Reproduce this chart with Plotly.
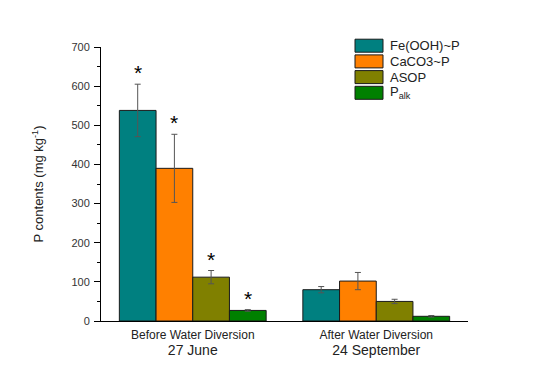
import plotly.graph_objects as go

categories = ["Before Water Diversion<br><span style='font-size:14px'>27 June</span>",
              "After Water Diversion<br><span style='font-size:14px'>24 September</span>"]
series_names = ["Fe(OOH)~P", "CaCO3~P", "ASOP", "P<sub>alk</sub>"]
fe_vals = [538, 80]
fe_err = [67, 8]
ca_vals = [390, 102]
ca_err = [87, 22]
asop_vals = [112, 50]
asop_err = [17, 5.5]
palk_vals = [27, 12]
palk_err = [2, 2]
significant = [[True, False], [True, False], [True, False], [True, False]]

colors = ["#008080", "#FF8000", "#808000", "#008000"]
values = [fe_vals, ca_vals, asop_vals, palk_vals]
errors = [fe_err, ca_err, asop_err, palk_err]

FONT = "Liberation Sans, Arial, sans-serif"
W, H = 550, 390
ML, MR, MT, MB = 93, 90, 39, 77
bargap = 0.2

fig = go.Figure()
for name, v, e, c in zip(series_names, values, errors, colors):
    fig.add_trace(go.Bar(
        x=categories, y=v, name=name, showlegend=False,
        marker=dict(color=c, line=dict(color="#1a1a1a", width=1)),
        error_y=dict(type="data", array=e, visible=True, color="#555555", thickness=1, width=3),
    ))

n = len(series_names)
bw = (1 - bargap) / n
annotations = []
shapes = []
for j in range(n):
    for i in range(len(categories)):
        if significant[j][i]:
            annotations.append(dict(
                x=i + (j - (n - 1) / 2) * bw, y=values[j][i] + errors[j][i],
                xref="x", yref="y", text="*", showarrow=False,
                yanchor="bottom", yshift=-2,
                font=dict(family=FONT, size=21, color="black"),
            ))

# custom legend (wide swatches like the original)
pw = W - ML - MR
ph = H - MT - MB
leg_left_px = 355 - 8 - ML
leg_top_px = 45.7 - 8 - MT
row_h = 15.7
sw_w, sw_h = 28, 13
for j, (name, c) in enumerate(zip(series_names, colors)):
    cy = leg_top_px + j * row_h
    shapes.append(dict(
        type="rect", xref="paper", yref="paper",
        x0=leg_left_px / pw, x1=(leg_left_px + sw_w) / pw,
        y0=1 - (cy + sw_h / 2) / ph, y1=1 - (cy - sw_h / 2) / ph,
        fillcolor=c, line=dict(color="#1a1a1a", width=1),
    ))
    annotations.append(dict(
        x=(leg_left_px + sw_w + 5) / pw, y=1 - cy / ph, xref="paper", yref="paper",
        text=name, showarrow=False, xanchor="left", yanchor="middle",
        font=dict(family=FONT, size=13, color="#222222"),
    ))

fig.update_layout(
    width=W, height=H,
    margin=dict(l=ML, r=MR, t=MT, b=MB),
    paper_bgcolor="white", plot_bgcolor="white",
    barmode="group", bargap=bargap, bargroupgap=0,
    font=dict(family=FONT, color="#222222"),
    showlegend=False,
    annotations=annotations, shapes=shapes,
)
fig.update_xaxes(
    type="category", range=[-0.5, 1.5],
    showline=True, linecolor="black", linewidth=1,
    ticks="", showgrid=False, ticklabelstandoff=3,
    tickfont=dict(family=FONT, size=12, color="#222222"),
)
fig.update_yaxes(
    range=[0, 700], dtick=100, tick0=0,
    showline=True, linecolor="black", linewidth=1,
    ticks="outside", ticklen=6, tickcolor="black", showgrid=False, zeroline=False,
    ticklabelstandoff=2,
    minor=dict(dtick=50, ticks="outside", ticklen=3, tickcolor="black", showgrid=False),
    tickfont=dict(family=FONT, size=11, color="#333333"),
    title=dict(text="P contents (mg kg<sup>-1</sup>)", standoff=24,
               font=dict(family=FONT, size=13, color="#222222")),
)
fig.write_html("out.html")
